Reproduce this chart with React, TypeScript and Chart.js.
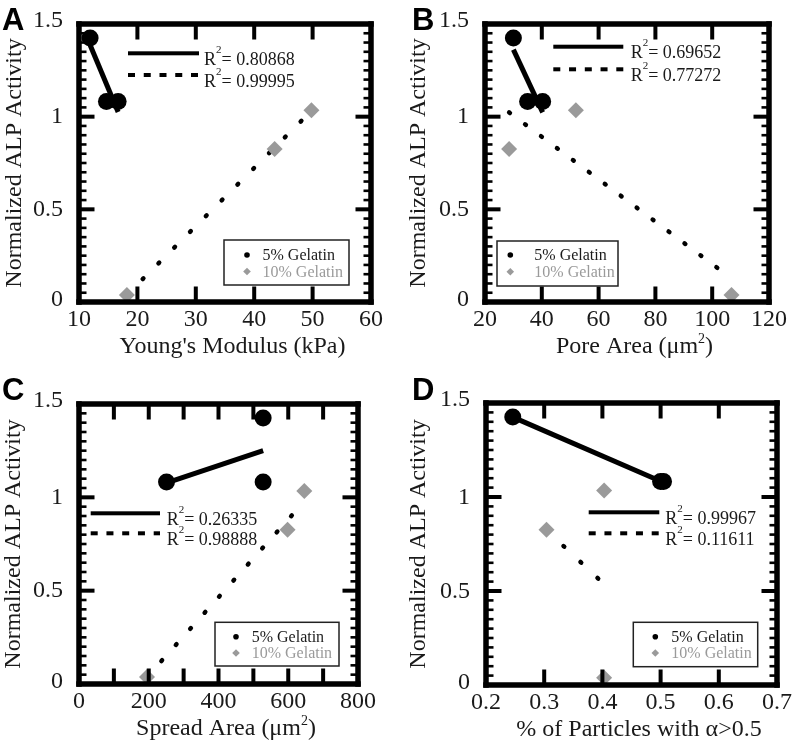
// ALP activity panels A-D, build 9: frame and ticks drawn together with the annotations
import React, { useEffect, useRef } from 'react';
import { Chart, registerables } from 'chart.js';

Chart.register(...registerables);

// ---- values ----
const alp5 = [1.425, 1.082, 1.082];
const alp10 = [0.038, 0.826, 1.034];

const modulus5 = [11.9, 14.7, 16.7];
const modulus10 = [18.2, 43.5, 49.8];
const pore5 = [30.0, 35.0, 40.3];
const pore10 = [106.8, 28.5, 52.0];
const spread5 = [528, 251, 528];
const spread10 = [195, 598, 646];
const particles5 = [0.246, 0.5, 0.505];
const particles10 = [0.403, 0.304, 0.403];

const fitModulus5X = [11.9, 16.7];
const fitModulus5Y = [1.387, 1.025];
const fitModulus10X = [18.2, 49.8];
const fitModulus10Y = [0.039, 1.031];
const fitPore5X = [30.0, 40.3];
const fitPore5Y = [1.362, 1.023];
const fitPore10X = [28.5, 106.8];
const fitPore10Y = [1.023, 0.127];
const fitSpread5X = [251, 528];
const fitSpread5Y = [1.078, 1.25];
const fitSpread10X = [195, 646];
const fitSpread10Y = [0.037, 0.978];
const fitParticles5X = [0.246, 0.505];
const fitParticles5Y = [1.425, 1.077];
const fitParticles10X = [0.304, 0.403];
const fitParticles10Y = [0.824, 0.536];

const r2Modulus = ['0.80868', '0.99995'];
const r2Pore = ['0.69652', '0.77272'];
const r2Spread = ['0.26335', '0.98888'];
const r2Particles = ['0.99967', '0.11611'];

const yTickValues = [0, 0.5, 1, 1.5];
const yTickLabels = ['0', '0.5', '1', '1.5'];
const yMinorValues = [
  0.05, 0.1, 0.15, 0.2, 0.25, 0.3, 0.35, 0.4, 0.45, 0.5,
  0.55, 0.6, 0.65, 0.7, 0.75, 0.8, 0.85, 0.9, 0.95, 1.0,
  1.05, 1.1, 1.15, 1.2, 1.25, 1.3, 1.35, 1.4, 1.45,
];

const modulusTicks = [10, 20, 30, 40, 50, 60];
const modulusLabels = ['10', '20', '30', '40', '50', '60'];
const poreTicks = [20, 40, 60, 80, 100, 120];
const poreLabels = ['20', '40', '60', '80', '100', '120'];
const spreadMarks = [100, 200, 300, 400, 500, 600, 700];
const spreadTicks = [0, 200, 400, 600, 800];
const spreadLabels = ['0', '200', '400', '600', '800'];
const particleTicks = [0.2, 0.3, 0.4, 0.5, 0.6, 0.7];
const particleLabels = ['0.2', '0.3', '0.4', '0.5', '0.6', '0.7'];

const yTitle = 'Normalized ALP Activity';
const legend5 = '5% Gelatin';
const legend10 = '10% Gelatin';

const SERIF = '"Liberation Serif", "Times New Roman", serif';
const TEXT = '#1a1a1a';
const GRAY = '#9a9a9a';

type PanelCfg = {
  letter: string;
  letterX: number;
  left: number;
  top: number;
  width: number;
  height: number;
  area: { l: number; r: number; t: number; b: number };
  xMin: number;
  xMax: number;
  xMarks: number[];
  xTicks: number[];
  xLabels: string[];
  xTitle: string[];
  yTitleX: number;
  x5: number[];
  x10: number[];
  fit5X: number[];
  fit5Y: number[];
  fit10X: number[];
  fit10Y: number[];
  dotGap: number;
  r2: string[];
  r2Pos: { x1: number; x2: number; y1: number; y2: number; tx: number };
  leg: { x: number; y: number; w: number; h: number; mx: number; tx: number; r1: number; r2: number };
};

const panelCfgs: PanelCfg[] = [
  {
    letter: 'A', letterX: 2, left: 0, top: 0, width: 396, height: 370,
    area: { l: 79, r: 371, t: 24, b: 302 },
    xMin: 10, xMax: 60, xMarks: modulusTicks, xTicks: modulusTicks, xLabels: modulusLabels,
    xTitle: ["Young's Modulus (kPa)"], yTitleX: 21,
    x5: modulus5, x10: modulus10,
    fit5X: fitModulus5X, fit5Y: fitModulus5Y, fit10X: fitModulus10X, fit10Y: fitModulus10Y,
    dotGap: 22.3, r2: r2Modulus,
    r2Pos: { x1: 128, x2: 199, y1: 53.3, y2: 75, tx: 204 },
    leg: { x: 224, y: 240, w: 125, h: 45, mx: 247, tx: 262.5, r1: 255, r2: 271.5 },
  },
  {
    letter: 'B', letterX: 16, left: 396, top: 0, width: 396, height: 370,
    area: { l: 89, r: 373, t: 24, b: 302 },
    xMin: 20, xMax: 120, xMarks: poreTicks, xTicks: poreTicks, xLabels: poreLabels,
    xTitle: ['Pore Area (μm', '^2', ')'], yTitleX: 29,
    x5: pore5, x10: pore10,
    fit5X: fitPore5X, fit5Y: fitPore5Y, fit10X: fitPore10X, fit10Y: fitPore10Y,
    dotGap: 19.9, r2: r2Pore,
    r2Pos: { x1: 157.3, x2: 227.3, y1: 46.7, y2: 69.3, tx: 234.7 },
    leg: { x: 101, y: 241, w: 121, h: 45, mx: 114.3, tx: 138.3, r1: 255, r2: 271.7 },
  },
  {
    letter: 'C', letterX: 2, left: 0, top: 370, width: 396, height: 374,
    area: { l: 79, r: 358, t: 34, b: 314 },
    xMin: 0, xMax: 800, xMarks: spreadMarks, xTicks: spreadTicks, xLabels: spreadLabels,
    xTitle: ['Spread Area (μm', '^2', ')'], yTitleX: 19.5,
    x5: spread5, x10: spread10,
    fit5X: fitSpread5X, fit5Y: fitSpread5Y, fit10X: fitSpread10X, fit10Y: fitSpread10Y,
    dotGap: 21.6, r2: r2Spread,
    r2Pos: { x1: 90.7, x2: 160, y1: 143.3, y2: 163.3, tx: 166.7 },
    leg: { x: 215, y: 252.3, w: 124, h: 43.7, mx: 236, tx: 251.7, r1: 266.7, r2: 283 },
  },
  {
    letter: 'D', letterX: 16, left: 396, top: 370, width: 396, height: 374,
    area: { l: 90, r: 381, t: 33, b: 315 },
    xMin: 0.2, xMax: 0.7, xMarks: particleTicks, xTicks: particleTicks, xLabels: particleLabels,
    xTitle: ['% of Particles with α>0.5'], yTitleX: 29,
    x5: particles5, x10: particles10,
    fit5X: fitParticles5X, fit5Y: fitParticles5Y, fit10X: fitParticles10X, fit10Y: fitParticles10Y,
    dotGap: 23.3, r2: r2Particles,
    r2Pos: { x1: 192.7, x2: 263.3, y1: 142.3, y2: 163.3, tx: 269.3 },
    leg: { x: 237.3, y: 252.3, w: 124.4, h: 44.4, mx: 259.3, tx: 275.3, r1: 266.7, r2: 283 },
  },
];

function drawRich(
  ctx: CanvasRenderingContext2D,
  segs: string[],
  x: number,
  y: number,
  size: number,
  supSize: number,
  raise: number,
  align: 'center' | 'left'
) {
  const mainFont = `${size}px ${SERIF}`;
  const supFont = `${supSize}px ${SERIF}`;
  const widths = segs.map((s) => {
    const sup = s.startsWith('^');
    ctx.font = sup ? supFont : mainFont;
    return ctx.measureText(sup ? s.slice(1) : s).width;
  });
  const total = widths.reduce((a, b) => a + b, 0);
  let cx = align === 'center' ? x - total / 2 : x;
  ctx.textAlign = 'left';
  ctx.textBaseline = 'alphabetic';
  segs.forEach((s, i) => {
    const sup = s.startsWith('^');
    ctx.font = sup ? supFont : mainFont;
    ctx.fillText(sup ? s.slice(1) : s, cx, sup ? y - raise : y);
    cx += widths[i];
  });
}

function drawTexts(c: any, p: PanelCfg) {
  const ctx: CanvasRenderingContext2D = c.ctx;
  const a = c.chartArea;
  ctx.save();
  ctx.fillStyle = TEXT;
  ctx.font = `24px ${SERIF}`;
  ctx.textAlign = 'right';
  ctx.textBaseline = 'alphabetic';
  yTickValues.forEach((v, i) => {
    let off = -1.5;
    if (i === yTickValues.length - 1) off = -5;
    if (i === 0) off = -4;
    ctx.fillText(yTickLabels[i], a.left - 16, c.scales.y.getPixelForValue(v) + off + 8);
  });
  ctx.textAlign = 'center';
  p.xTicks.forEach((v, i) => {
    ctx.fillText(p.xLabels[i], c.scales.x.getPixelForValue(v), a.bottom + 24);
  });
  drawRich(ctx, p.xTitle, (a.left + a.right) / 2 + 7.5, a.bottom + 51, 24, 14, 10, 'center');
  ctx.save();
  ctx.translate(p.yTitleX, (a.top + a.bottom) / 2);
  ctx.rotate(-Math.PI / 2);
  ctx.font = `24px ${SERIF}`;
  ctx.textAlign = 'center';
  ctx.textBaseline = 'alphabetic';
  ctx.fillText(yTitle, 0, 0);
  ctx.restore();
  ctx.fillStyle = '#000';
  ctx.font = `bold 31px "Liberation Sans", Arial, sans-serif`;
  ctx.textAlign = 'left';
  ctx.fillText(p.letter, p.letterX, 30);
  ctx.restore();
}

function drawOverlay(c: any, p: PanelCfg) {
  const ctx: CanvasRenderingContext2D = c.ctx;
  const a = c.chartArea;
  ctx.save();

  // R^2 samples and labels
  const r = p.r2Pos;
  ctx.fillStyle = '#000';
  ctx.fillRect(r.x1, r.y1 - 2, r.x2 - r.x1, 4);
  const dash = 7;
  const gap = 8.75;
  for (let x = r.x1; x < r.x2 - 0.5; x += dash + gap) {
    ctx.fillRect(x, r.y2 - 2, Math.min(dash, r.x2 - x), 4);
  }

  // inward tick marks on all four sides
  for (let i = 0; i < yMinorValues.length; i++) {
    const y = c.scales.y.getPixelForValue(yMinorValues[i]);
    const major = (i + 1) % 10 === 0;
    const len = major ? 15.5 : 7.5;
    const th = major ? 4 : 2.6;
    ctx.fillRect(a.left, y - th / 2, len, th);
    ctx.fillRect(a.right - len, y - th / 2, len, th);
  }
  for (let i = 0; i < p.xMarks.length; i++) {
    const v = p.xMarks[i];
    if (v <= p.xMin + 1e-9 || v >= p.xMax - 1e-9) continue;
    const x = c.scales.x.getPixelForValue(v);
    ctx.fillRect(x - 2, a.top, 4, 15.5);
    ctx.fillRect(x - 2, a.bottom - 15.5, 4, 15.5);
  }
  // thick frame
  ctx.fillRect(a.left - 2.75, a.top - 2.75, a.right - a.left + 5.5, 5.5);
  ctx.fillRect(a.left - 2.75, a.bottom - 2.75, a.right - a.left + 5.5, 5.5);
  ctx.fillRect(a.left - 2.75, a.top - 2.75, 5.5, a.bottom - a.top + 5.5);
  ctx.fillRect(a.right - 2.75, a.top - 2.75, 5.5, a.bottom - a.top + 5.5);

  ctx.fillStyle = TEXT;
  drawRich(ctx, ['R', '^2', '= ' + p.r2[0]], r.tx, r.y1 + 11.5, 18, 11, 12, 'left');
  drawRich(ctx, ['R', '^2', '= ' + p.r2[1]], r.tx, r.y2 + 11.5, 18, 11, 12, 'left');

  // legend box
  const L = p.leg;
  ctx.fillStyle = '#fff';
  ctx.fillRect(L.x, L.y, L.w, L.h);
  ctx.strokeStyle = '#222';
  ctx.lineWidth = 1.5;
  ctx.strokeRect(L.x, L.y, L.w, L.h);
  ctx.fillStyle = '#000';
  ctx.beginPath();
  ctx.arc(L.mx, L.r1, 2.8, 0, Math.PI * 2);
  ctx.fill();
  ctx.fillStyle = GRAY;
  ctx.beginPath();
  const d = 3.8;
  ctx.moveTo(L.mx - d, L.r2);
  ctx.lineTo(L.mx, L.r2 - d);
  ctx.lineTo(L.mx + d, L.r2);
  ctx.lineTo(L.mx, L.r2 + d);
  ctx.closePath();
  ctx.fill();
  ctx.font = `16px ${SERIF}`;
  ctx.textAlign = 'left';
  ctx.textBaseline = 'alphabetic';
  ctx.fillStyle = TEXT;
  ctx.fillText(legend5, L.tx, L.r1 + 5);
  ctx.fillStyle = GRAY;
  ctx.fillText(legend10, L.tx, L.r2 + 5);
  ctx.restore();
}

function PanelChart({ cfg }: { cfg: PanelCfg }) {
  const ref = useRef<HTMLCanvasElement | null>(null);
  useEffect(() => {
    const canvas = ref.current;
    if (!canvas) return;
    const p = cfg;
    const datasets: any[] = [
      {
        label: legend5,
        data: p.x5.map((x, i) => ({ x, y: alp5[i] })),
        pointStyle: 'circle',
        pointRadius: 8.5,
        backgroundColor: '#000',
        borderColor: '#000',
        borderWidth: 0,
        clip: false,
      },
      {
        label: legend10,
        data: p.x10.map((x, i) => ({ x, y: alp10[i] })),
        pointStyle: 'rectRot',
        pointRadius: 8,
        backgroundColor: GRAY,
        borderColor: GRAY,
        borderWidth: 0,
        clip: false,
      },
      {
        label: 'fit5',
        data: p.fit5X.map((x, i) => ({ x, y: p.fit5Y[i] })),
        showLine: true,
        pointRadius: 0,
        borderColor: '#000',
        backgroundColor: '#000',
        borderWidth: 5,
        borderCapStyle: 'butt',
        clip: false,
      },
      {
        label: 'fit10',
        data: p.fit10X.map((x, i) => ({ x, y: p.fit10Y[i] })),
        showLine: true,
        pointRadius: 0,
        borderColor: '#000',
        backgroundColor: '#000',
        borderWidth: 4.5,
        borderDash: [1, p.dotGap - 1],
        borderCapStyle: 'round',
        clip: false,
      },
    ];
    const chart = new Chart(canvas, {
      type: 'scatter',
      data: { datasets },
      options: {
        animation: false,
        responsive: false,
        devicePixelRatio: 1,
        events: [],
        layout: {
          padding: {
            left: p.area.l,
            right: p.width - p.area.r,
            top: p.area.t,
            bottom: p.height - p.area.b,
          },
        },
        scales: {
          x: { type: 'linear', min: p.xMin, max: p.xMax, display: false },
          y: { type: 'linear', min: 0, max: 1.5, display: false },
        },
        plugins: {
          legend: { display: false },
          tooltip: { enabled: false },
        },
      },
      plugins: [
        {
          id: 'panelOverlay',
          beforeDatasetsDraw(c: any) {
            drawTexts(c, p);
          },
          afterDatasetsDraw(c: any) {
            drawOverlay(c, p);
          },
        },
      ],
    });
    return () => chart.destroy();
  }, [cfg]);
  return (
    <canvas
      ref={ref}
      width={cfg.width}
      height={cfg.height}
      style={{ position: 'absolute', left: cfg.left, top: cfg.top }}
    />
  );
}

export default function App() {
  return (
    <div style={{ position: 'absolute', left: 0, top: 0, width: 792, height: 744, background: '#fff' }}>
      {panelCfgs.map((cfg) => (
        <PanelChart key={cfg.letter} cfg={cfg} />
      ))}
    </div>
  );
}
